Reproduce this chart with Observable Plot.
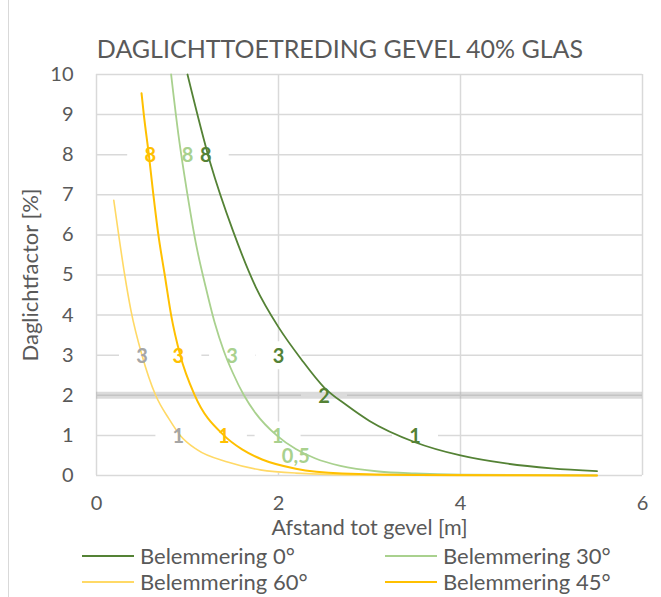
<!DOCTYPE html>
<html>
<head>
<meta charset="utf-8">
<script src="https://cdn.jsdelivr.net/npm/d3@7"></script>
<script src="https://cdn.jsdelivr.net/npm/@observablehq/plot@0.6"></script>
<style>
  body { margin: 0; background: #fff; }
  #chart { position: relative; width: 661px; height: 597px; overflow: hidden;
           font-family: Lato, "Open Sans", sans-serif; color: #595959; }
  #edge { position: absolute; left: 8px; top: 0; bottom: 0; border-left: 1.5px solid #d9d9d9; }
  #title { position: absolute; top: 32px; left: 0; width: 680px; text-align: center;
           font-size: 25px; line-height: 32px; white-space: nowrap; }
  #plot { position: absolute; top: 62px; left: 0; }
  .item { position: absolute; height: 26px; display: flex; align-items: center;
          font-size: 22px; line-height: 26px; white-space: nowrap; }
  .swatch { display: inline-block; width: 52px; margin-right: 6px; }
</style>
</head>
<body>
<div id="chart">
  <div id="edge"></div>
  <div id="title"></div>
  <div id="plot"></div>
  <div id="legend"></div>
</div>
<script>
// Chart text
const chartTitle = "DAGLICHTTOETREDING GEVEL 40% GLAS";
const xTitle = "Afstand tot gevel [m]";
const yTitle = "Daglichtfactor [%]";

// Axis ticks
const xTicks = [0, 2, 4, 6];
const yTicks = [0, 1, 2, 3, 4, 5, 6, 7, 8, 9, 10];

// 2% threshold
const threshold = [2];

// Belemmering 0°
const x0 = [1.00, 1.25, 1.50, 1.75, 2.00, 2.25, 2.50, 2.75, 3.00, 3.50, 4.00, 4.50, 5.00, 5.50];
const y0 = [10.0, 7.8, 6.1, 4.7, 3.7, 2.9, 2.2, 1.75, 1.36, 0.83, 0.50, 0.30, 0.18, 0.11];
// Belemmering 30°
const x30 = [0.82, 0.90, 1.00, 1.10, 1.20, 1.30, 1.40, 1.50, 1.62, 1.75, 1.98, 2.19, 2.40, 2.68, 3.10, 3.50, 4.00, 5.50];
const y30 = [10.0, 8.5, 7.0, 5.7, 4.7, 3.8, 3.1, 2.55, 2.0, 1.55, 1.0, 0.66, 0.43, 0.24, 0.10, 0.05, 0.02, 0.002];
// Belemmering 45°
const x45 = [0.495, 0.52, 0.575, 0.62, 0.68, 0.75, 0.82, 0.92, 1.08, 1.40, 1.60, 1.82, 2.19, 2.70, 3.50, 5.50];
const y45 = [9.53, 9.0, 8.0, 7.1, 6.0, 5.0, 4.0, 3.0, 2.0, 1.0, 0.65, 0.40, 0.17, 0.05, 0.012, 0.001];
// Belemmering 60°
const x60 = [0.19, 0.25, 0.31, 0.38, 0.50, 0.65, 0.80, 0.92, 1.10, 1.45, 1.80, 2.19, 3.00, 4.00, 5.50];
const y60 = [6.86, 5.9, 5.0, 4.1, 3.0, 2.0, 1.4, 1.0, 0.65, 0.33, 0.14, 0.06, 0.012, 0.003, 0.0];

// Value labels per curve
const lab0x = [1.2, 2.0, 2.5, 3.5],  lab0y = [8, 3, 2, 1],   lab0t = ["8", "3", "2", "1"];
const lab30x = [1.0, 1.49, 1.99, 2.19], lab30y = [8, 3, 1, 0.5], lab30t = ["8", "3", "1", "0,5"];
const lab45x = [0.59, 0.9, 1.4], lab45y = [8, 3, 1], lab45t = ["8", "3", "1"];
const lab60x = [0.5, 0.9], lab60y = [3, 1], lab60t = ["3", "1"];

const series = [
  {name: "Belemmering 0°",  stroke: "#548235", label: "#548235", width: 1.8, xs: x0,  ys: y0,  lx: lab0x,  ly: lab0y,  lt: lab0t},
  {name: "Belemmering 30°", stroke: "#a9d18e", label: "#a9d18e", width: 1.8, xs: x30, ys: y30, lx: lab30x, ly: lab30y, lt: lab30t},
  {name: "Belemmering 60°", stroke: "#ffd966", label: "#a6a6a6", width: 1.6, xs: x60, ys: y60, lx: lab60x, ly: lab60y, lt: lab60t},
  {name: "Belemmering 45°", stroke: "#ffc000", label: "#ffc000", width: 2.0, xs: x45, ys: y45, lx: lab45x, ly: lab45y, lt: lab45t}
];

const rows = series.map(s => ({
  line: s.xs.map((x, i) => ({x, y: s.ys[i]})),
  labels: s.lx.map((x, i) => ({x, y: s.ly[i], t: s.lt[i]}))
}));

// White label boxes that interrupt the gridlines
const box = (w, h) => ({draw(ctx) {
  ctx.moveTo(-w / 2, -h / 2); ctx.lineTo(w / 2, -h / 2);
  ctx.lineTo(w / 2, h / 2); ctx.lineTo(-w / 2, h / 2); ctx.closePath();
}});

const gridStyle = {stroke: "#d9d9d9", strokeOpacity: 1, strokeWidth: 1.5};

const marks = [
  Plot.gridX(xTicks, gridStyle),
  Plot.gridY(yTicks, gridStyle),
  ...rows.map(r => Plot.dot(r.labels.filter(d => d.t.length === 1),
    {x: "x", y: "y", symbol: box(46, 28), r: 10, fill: "white", stroke: null})),
  ...rows.map(r => Plot.dot(r.labels.filter(d => d.t.length > 1),
    {x: "x", y: "y", dy: 3, symbol: box(58, 28), r: 10, fill: "white", stroke: null})),
  Plot.ruleY(threshold, {stroke: "#a6a6a6", strokeOpacity: 0.4, strokeWidth: 7}),
  ...series.map((s, i) => Plot.line(rows[i].line,
    {x: "x", y: "y", stroke: s.stroke, strokeWidth: s.width, curve: "monotone-x"})),
  ...series.map((s, i) => Plot.text(rows[i].labels,
    {x: "x", y: "y", text: "t", dy: 1, fill: s.label, fontWeight: "bold", fontSize: 20})),
  Plot.axisX(xTicks, {tickSize: 0, tickPadding: 20, label: null, fontSize: 20, tickFormat: d => String(d)}),
  Plot.axisY(yTicks, {tickSize: 0, tickPadding: 23, label: null, fontSize: 20, tickFormat: d => String(d)}),
  Plot.text([xTitle], {text: d => d, frameAnchor: "bottom", lineAnchor: "middle", dy: 53, fontSize: 21.5}),
  Plot.text([yTitle], {text: d => d, frameAnchor: "left", textAnchor: "middle", lineAnchor: "middle",
                       dx: -66, rotate: -90, fontSize: 22})
];

const chart = Plot.plot({
  width: 661,
  height: 478,
  marginLeft: 96,
  marginRight: 19,
  marginTop: 12,
  marginBottom: 65,
  x: {domain: [0, 6]},
  y: {domain: [0, 10]},
  style: {fontFamily: "Lato, 'Open Sans', sans-serif", fontSize: "20px", color: "#595959",
          background: "transparent", overflow: "visible"},
  marks
});
document.getElementById("plot").appendChild(chart);
document.getElementById("title").textContent = chartTitle;

// Legend: two columns, two rows
const legendPos = [[82, 543], [385, 543], [82, 569], [385, 569]];
const legend = document.getElementById("legend");
series.forEach((s, i) => {
  const item = document.createElement("div");
  item.className = "item";
  item.style.left = legendPos[i][0] + "px";
  item.style.top = legendPos[i][1] + "px";
  const sw = document.createElement("span");
  sw.className = "swatch";
  sw.style.height = s.width + "px";
  sw.style.background = s.stroke;
  item.appendChild(sw);
  item.appendChild(document.createTextNode(s.name));
  legend.appendChild(item);
});
</script>
</body>
</html>
